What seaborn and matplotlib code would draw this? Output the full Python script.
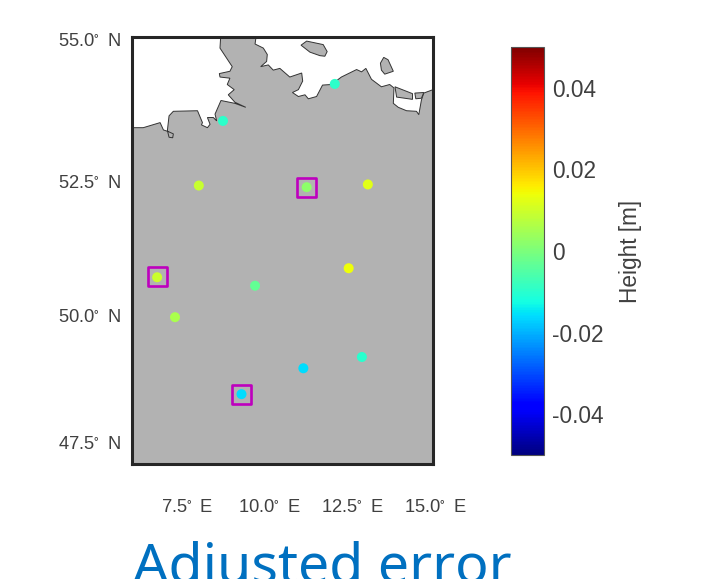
import numpy as np
import pandas as pd
import matplotlib
matplotlib.use("Agg")
import matplotlib.pyplot as plt
from matplotlib.colors import Normalize
from matplotlib.cm import ScalarMappable
from matplotlib.patches import Polygon
import seaborn as sns

station_lon = [8.59, 11.97, 7.86, 11.12, 12.97, 6.60, 9.56, 12.39, 7.14, 12.79, 11.02, 9.15]
station_lat = [53.59, 54.24, 52.43, 52.40, 52.45, 50.73, 50.57, 50.90, 49.97, 49.20, 48.98, 48.47]
station_err = [-0.0095, -0.0095, 0.0092, 0.002, 0.0123, 0.0095, -0.003, 0.014, 0.0057, -0.010, -0.016, -0.016]
boxed_lon = [11.11, 6.60, 9.15]
boxed_lat = [52.40, 50.74, 48.47]

coast_lon = [5.84, 6.18, 6.69, 6.79, 6.94, 7.09, 7.07, 6.96, 6.91, 6.96, 7.09, 7.82, 7.97, 7.94, 8.12, 8.20,
             8.12, 8.30, 8.40, 8.35, 8.53, 8.95, 9.28, 8.95, 8.75, 8.93, 8.72, 8.80, 8.50, 8.48, 8.80, 8.87,
             8.50, 8.52, 9.59, 9.56, 9.81, 9.93, 9.91, 9.73, 9.96, 10.11, 10.31, 10.61, 10.97, 11.00, 10.87,
             10.69, 10.87, 11.07, 11.17, 11.42, 11.60, 11.87, 12.17, 12.63, 12.78, 12.91, 13.08, 13.38, 13.63,
             13.76, 13.74, 13.89, 14.14, 14.44, 14.51, 14.59, 14.66, 14.94, 14.94, 5.84]
coast_lat = [53.47, 53.47, 53.56, 53.43, 53.40, 53.36, 53.29, 53.30, 53.42, 53.68, 53.76, 53.77, 53.56, 53.52, 53.47, 53.53,
             53.65, 53.65, 53.59, 53.71, 53.95, 53.90, 53.83, 53.92, 54.05, 54.14, 54.23, 54.34, 54.36, 54.42, 54.46, 54.54,
             54.86, 55.05, 55.05, 54.93, 54.86, 54.75, 54.63, 54.54, 54.57, 54.48, 54.51, 54.36, 54.43, 54.29, 54.14,
             54.09, 54.02, 54.05, 53.98, 54.02, 54.22, 54.23, 54.36, 54.49, 54.45, 54.51, 54.32, 54.19, 54.23,
             54.17, 53.90, 53.83, 53.77, 53.76, 53.70, 53.96, 54.08, 54.14, 47.07, 47.07]
island_a_lon = [10.95, 11.12, 11.62, 11.74, 11.67, 11.52, 11.22]
island_a_lat = [54.91, 54.98, 54.92, 54.80, 54.72, 54.73, 54.79]
island_b_lon = [13.35, 13.45, 13.58, 13.74, 13.48, 13.38]
island_b_lat = [54.60, 54.70, 54.66, 54.46, 54.41, 54.48]
island_c_lon = [13.79, 14.32, 14.32, 13.84]
island_c_lat = [54.19, 54.07, 53.97, 54.01]
island_d_lon = [14.39, 14.66, 14.59, 14.42]
island_d_lat = [54.08, 54.09, 53.99, 53.98]

lon_ticks = [7.5, 10.0, 12.5, 15.0]
lat_ticks = [47.5, 50.0, 52.5, 55.0]
cbar_ticks = [-0.04, -0.02, 0, 0.02, 0.04]
cbar_labels = ["-0.04", "-0.02", "0", "0.02", "0.04"]
title_text = "Adjusted error"

sns.set_theme(style="white")
plt.rcParams["font.family"] = ["Liberation Sans", "DejaVu Sans"]
plt.rcParams["mathtext.fontset"] = "custom"
plt.rcParams["mathtext.rm"] = "Liberation Sans"
plt.rcParams["mathtext.default"] = "regular"

W, H = 710, 579
fig = plt.figure(figsize=(W / 100, H / 100), dpi=100)
# the axes run on to 15.0 E so that the last tick label exists; the frame stops at 14.94 E
ax = fig.add_axes([132 / W, 1 - 464 / H, (435 - 132) / W, (464 - 37) / H])


def merc(lat):
    return np.degrees(np.log(np.tan(np.pi / 4 + np.radians(np.asarray(lat, float)) / 2)))


def merc_inv(y):
    return np.degrees(2 * np.arctan(np.exp(np.radians(np.asarray(y, float)))) - np.pi / 2)


ax.set_yscale("function", functions=(merc, merc_inv))

land = "#B2B2B2"
edge = "#333333"
for lo, la in [(coast_lon, coast_lat), (island_a_lon, island_a_lat), (island_b_lon, island_b_lat),
               (island_c_lon, island_c_lat), (island_d_lon, island_d_lat)]:
    ax.add_patch(Polygon(np.column_stack([lo, la]), closed=True, facecolor=land, edgecolor=edge, linewidth=0.7, zorder=1))

norm = Normalize(-0.05, 0.05)
jet = plt.get_cmap("jet")
df = pd.DataFrame({"lon": station_lon, "lat": station_lat, "err": station_err})
sns.scatterplot(data=df, x="lon", y="lat", hue="err", hue_norm=norm, palette=jet, s=52, linewidth=0,
                legend=False, ax=ax, zorder=3)
sns.scatterplot(x=boxed_lon, y=boxed_lat, marker="s", s=190, facecolor="none", edgecolor="#BE00BE", linewidth=1.9,
                legend=False, ax=ax, zorder=4)

ax.set_xlabel("")
ax.set_ylabel("")
ax.set_xlim(5.84, 15.0)
ax.set_ylim(47.07, 55.05)
ax.set_xticks(lon_ticks)
ax.set_yticks(lat_ticks)
ax.minorticks_off()
ax.set_xticklabels([f"{v:.1f}$^{{\\circ}}\\,$ E" for v in lon_ticks])
ax.set_yticklabels([f"{v:.1f}$^{{\\circ}}\\,$ N" for v in lat_ticks])
ax.tick_params(axis="both", length=0, labelsize=13.2, labelcolor="#404040")
ax.tick_params(axis="x", pad=25.5)
ax.tick_params(axis="y", pad=8)
for s in ax.spines.values():
    s.set_visible(True)
    s.set_color("#262626")
    s.set_linewidth(2.2)
ax.spines["right"].set_position(("data", 14.94))
ax.spines["top"].set_bounds(5.84, 14.94)
ax.spines["bottom"].set_bounds(5.84, 14.94)
ax.patch.set_alpha(0)

cax = fig.add_axes([511 / W, 1 - 455 / H, 33 / W, 408 / H])
cb = fig.colorbar(ScalarMappable(norm=norm, cmap=jet), cax=cax)
cb.set_ticks(cbar_ticks)
cb.set_ticklabels(cbar_labels)
cb.ax.tick_params(length=3, width=0.8, direction="in", color="#404040", labelsize=16.3, labelcolor="#404040", pad=6)
cb.outline.set_edgecolor("#555555")
cb.outline.set_linewidth(0.8)
cb.set_label("Height [m]", fontsize=16.3, color="#404040", labelpad=11)

fig.text(133 / W, 1 - 583 / H, title_text, family="Noto Sans", fontsize=40, color="#0070C0", ha="left", va="baseline")

fig.savefig("out.png", dpi=100, facecolor="white")
